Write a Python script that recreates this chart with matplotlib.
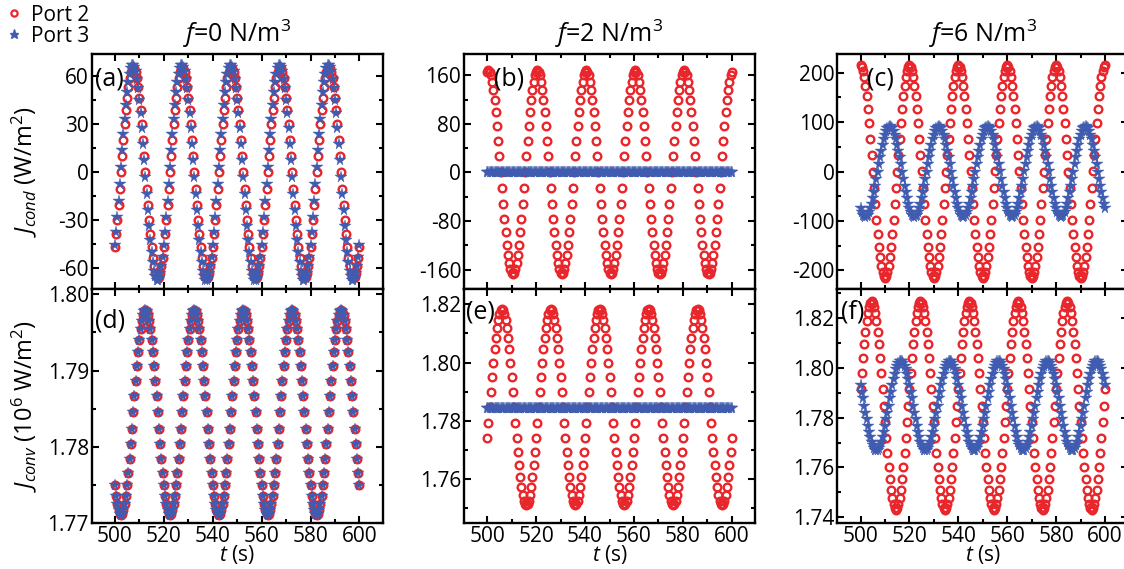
import numpy as np
import matplotlib
matplotlib.use('Agg')
import matplotlib.pyplot as plt
from matplotlib.ticker import MultipleLocator, FormatStrFormatter
from matplotlib.lines import Line2D

# Style
plt.rcParams['font.family'] = ['Open Sans', 'DejaVu Sans']
plt.rcParams['mathtext.fontset'] = 'custom'
plt.rcParams['mathtext.rm'] = 'Open Sans'
plt.rcParams['mathtext.it'] = 'Open Sans:italic'
plt.rcParams['mathtext.bf'] = 'Open Sans:bold'

# Sampling of the time series (s)
T_START, T_END, T_STEP = 500.0, 600.0, 0.5
PERIOD = 20.0

# Panels (a)-(f): mean level, amplitude and time of a maximum
PANELS = ['(a)', '(b)', '(c)', '(d)', '(e)', '(f)']
PORT2_MEAN = [0.0, 0.0, 0.0, 1.7845, 1.7847, 1.7849]
PORT2_AMP = [66.0, 168.0, 215.0, 0.0135, 0.0337, 0.0418]
PORT2_PEAK = [507.5, 500.5, 500.0, 512.5, 506.0, 504.5]
PORT3_MEAN = [0.0, 0.0, 0.0, 1.7845, 1.7844, 1.7849]
PORT3_AMP = [67.5, 0.0, 92.0, 0.0135, 0.0, 0.0180]
PORT3_PEAK = [507.35, 500.0, 512.0, 512.5, 500.0, 516.5]

TITLES = ['$f$=0 N/m$^{3}$', '$f$=2 N/m$^{3}$', '$f$=6 N/m$^{3}$']
YLIMS = [(-73, 74), (-192, 195), (-238, 238),
         (1.77, 1.8007), (1.745, 1.8252), (1.7377, 1.8317)]
YMAJOR = [30, 80, 100, 0.01, 0.02, 0.02]
YMINOR = [15, 40, 50, 0.005, 0.01, 0.01]
LABEL_X = [0.012, 0.103, 0.103, 0.012, 0.008, 0.011]
LABEL_Y = [0.895, 0.895, 0.895, 0.865, 0.90, 0.90]

RED = '#e8262b'
BLUE = '#3f5cb0'

W, H = 1124, 569
fig = plt.figure(figsize=(W / 100, H / 100), dpi=100)

col_left = [91.7, 464.0, 837.3]
col_w = 291.0
row_top = [54.0, 289.0]
row_h = [235.0, 234.0]

t = np.arange(T_START, T_END + T_STEP / 2, T_STEP)


def wave(mean, amp, peak):
    return mean + amp * np.cos(2 * np.pi * (t - peak) / PERIOD)


for i in range(6):
    r, c = divmod(i, 3)
    left = col_left[c] / W
    bottom = (H - row_top[r] - row_h[r]) / H
    ax = fig.add_axes([left, bottom, col_w / W, row_h[r] / H])

    p2 = wave(PORT2_MEAN[i], PORT2_AMP[i], PORT2_PEAK[i])
    p3 = wave(PORT3_MEAN[i], PORT3_AMP[i], PORT3_PEAK[i])
    ax.plot(t, p2, 'o', ls='none', ms=5.5, mfc='none', mec=RED, mew=1.7)
    ax.plot(t, p3, '*', ls='none', ms=8.5, color=BLUE, mec=BLUE, mew=0.3)

    ax.set_xlim(490.5, 609.5)
    ax.set_ylim(*YLIMS[i])
    ax.xaxis.set_major_locator(MultipleLocator(20))
    ax.xaxis.set_minor_locator(MultipleLocator(10))
    ax.yaxis.set_major_locator(MultipleLocator(YMAJOR[i]))
    ax.yaxis.set_minor_locator(MultipleLocator(YMINOR[i]))
    if r == 1:
        ax.yaxis.set_major_formatter(FormatStrFormatter('%.2f'))
    else:
        ax.yaxis.set_major_formatter(FormatStrFormatter('%d'))

    ax.tick_params(which='both', direction='in', top=True, right=True,
                   labelsize=15, width=1.5, pad=2, colors='black')
    ax.tick_params(which='major', length=5)
    ax.tick_params(which='minor', length=3)
    for s in ax.spines.values():
        s.set_linewidth(1.7)

    if r == 0:
        ax.tick_params(labelbottom=False)
        ax.set_title(TITLES[c], fontsize=18, pad=9)
    else:
        ax.set_xlabel('$t$ (s)', fontsize=15, labelpad=-3)

    if c == 0:
        if r == 0:
            ax.set_ylabel('$J_{cond}$ (W/m$^{2}$)', fontsize=17)
        else:
            ax.set_ylabel('$J_{conv}$ (10$^{6}$ W/m$^{2}$)', fontsize=17)
        ax.yaxis.set_label_coords(-0.18, 0.5)

    ax.text(LABEL_X[i], LABEL_Y[i], PANELS[i], transform=ax.transAxes,
            fontsize=18, va='center', ha='left')

handles = [Line2D([], [], marker='o', ls='none', ms=4.5, mfc='none', mec=RED, mew=1.6),
           Line2D([], [], marker='*', ls='none', ms=6.5, color=BLUE)]
fig.legend(handles, ['Port 2', 'Port 3'], loc='upper left',
           bbox_to_anchor=(-0.004, 1.014), frameon=False, fontsize=15,
           handlelength=0.6, handletextpad=0.5, labelspacing=0.0,
           borderaxespad=0.2)

fig.savefig('out.png', dpi=100)
